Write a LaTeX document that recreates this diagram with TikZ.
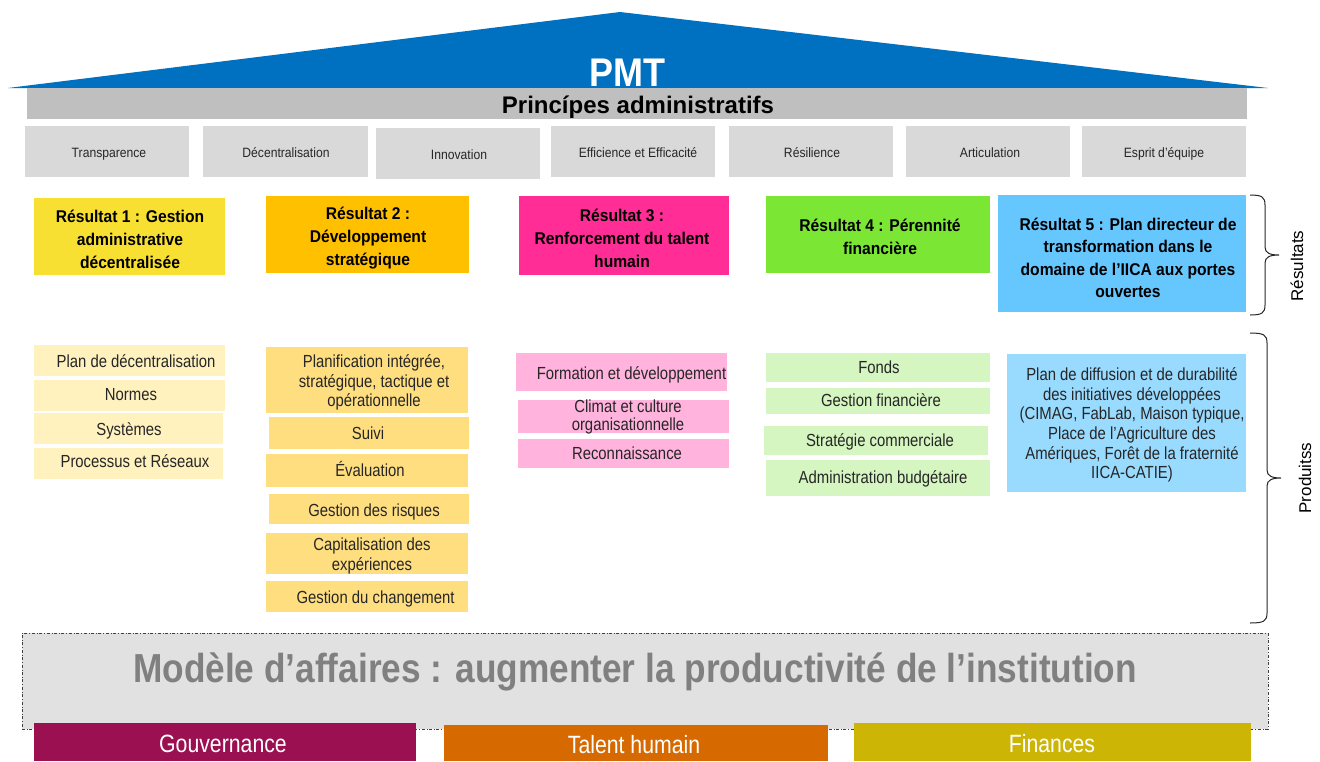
\documentclass[tikz,border=0pt]{standalone}
\usepackage{fontspec}
\setmainfont{Liberation Sans}
\newfontfamily\fN[FakeStretch=0.85]{Liberation Sans}
\newfontfamily\fR[FakeStretch=0.92]{Liberation Sans}
\newfontfamily\fP[FakeStretch=0.9]{Liberation Sans}
\newfontfamily\fM[FakeStretch=0.87]{Liberation Sans}
\definecolor{roofblue}{HTML}{0070C0}
\definecolor{barGray}{HTML}{BFBFBF}
\definecolor{prinGray}{HTML}{D9D9D9}
\definecolor{rYel}{HTML}{F8E032}
\definecolor{rOra}{HTML}{FFC000}
\definecolor{rPink}{HTML}{FF2D95}
\definecolor{rGreen}{HTML}{7CE634}
\definecolor{rBlue}{HTML}{66C7FF}
\definecolor{pYel}{HTML}{FFF2BF}
\definecolor{pOra}{HTML}{FFDE80}
\definecolor{pPink}{HTML}{FFB3DD}
\definecolor{pGreen}{HTML}{D5F5C1}
\definecolor{pBlue}{HTML}{99DAFF}
\definecolor{modelGray}{HTML}{E1E1E1}
\definecolor{modelText}{HTML}{808080}
\definecolor{gouv}{HTML}{9A1050}
\definecolor{talent}{HTML}{D66A00}
\definecolor{fin}{HTML}{CDB505}
\definecolor{txt}{HTML}{262626}
\newcommand\rbox[6]{\node[box,#6,minimum width={(#4-#2)*1pt},minimum height={(#5-#3)*1pt}] (#1) at ({(#2+#4)/2},{(#3+#5)/2}) {};}
\begin{document}
\begin{tikzpicture}[x=1pt,y=-1pt,
  box/.style={inner sep=0pt,outer sep=0pt,draw=none},
  prin/.style={font=\fP\fontsize{13.5}{16}\selectfont,text=txt,anchor=base,inner sep=0pt},
  res/.style={font=\fR\bfseries\fontsize{17}{23}\selectfont,align=center,text=black,inner sep=0pt},
  prod/.style={font=\fN\fontsize{17.5}{19.5}\selectfont,align=center,text=txt,inner sep=0pt},
  prodb/.style={prod,anchor=base},
  bartxt/.style={font=\fN\fontsize{25}{30}\selectfont,text=white,anchor=base,inner sep=0pt},
  side/.style={font=\fontsize{17}{20}\selectfont,rotate=90,text=black,inner sep=0pt},
  brace/.style={draw=black!85,line width=1pt}]
\useasboundingbox (0,0) rectangle (1320,761);
% roof
\fill[roofblue] (8,88) -- (620,12) -- (1268,88) -- cycle;
\node[font=\fP\bfseries\fontsize{40}{44}\selectfont,text=white,anchor=base,inner sep=0pt] (pmt) at (627,86) {PMT};
\rbox{bar}{27}{88}{1247}{119}{fill=barGray}
\node[font=\bfseries\fontsize{24}{28}\selectfont,text=black,anchor=base,inner sep=0pt] (bart) at (638,113) {Princípes administratifs};
% principles
\rbox{pr1}{25}{126}{189}{177}{fill=prinGray}
\rbox{pr2}{203}{126}{368}{177}{fill=prinGray}
\rbox{pr3}{376}{128}{540}{179}{fill=prinGray}
\rbox{pr4}{551}{126}{715}{177}{fill=prinGray}
\rbox{pr5}{729}{126}{893}{177}{fill=prinGray}
\rbox{pr6}{906}{126}{1070}{177}{fill=prinGray}
\rbox{pr7}{1082}{126}{1246}{177}{fill=prinGray}
\node[prin] (pr1t) at (109,157) {Transparence};
\node[prin] (pr2t) at (286,157) {Décentralisation};
\node[prin] (pr3t) at (459,159) {Innovation};
\node[prin] (pr4t) at (638,157) {Efficience et Efficacité};
\node[prin] (pr5t) at (812,157) {Résilience};
\node[prin] (pr6t) at (990,157) {Articulation};
\node[prin] (pr7t) at (1164,157) {Esprit d’équipe};
% results
\rbox{r1}{34}{198}{225}{275}{fill=rYel}
\rbox{r2}{266}{196}{469}{273}{fill=rOra}
\rbox{r3}{519}{196}{729}{275}{fill=rPink}
\rbox{r4}{766}{196}{990}{273}{fill=rGreen}
\rbox{r5}{998}{195}{1246}{312}{fill=rBlue}
\node[res] (r1t) at (130,239) {Résultat 1 : Gestion\\administrative\\décentralisée};
\node[res] (r2t) at (368,238) {Résultat 2 :\\Développement\\stratégique};
\node[res] (r3t) at (622,238) {Résultat 3 :\\Renforcement du talent\\humain};
\node[res] (r4t) at (880,237) {Résultat 4 : Pérennité\\financière};
\node[res,font=\fR\bfseries\fontsize{17}{22.5}\selectfont] (r5t) at (1128,258) {Résultat 5 : Plan directeur de\\transformation dans le\\domaine de l’IICA aux portes\\ouvertes};
% products column 1
\rbox{p1a}{34}{345}{225}{376}{fill=pYel}
\rbox{p1b}{34}{380}{225}{411}{fill=pYel}
\rbox{p1c}{34}{413}{223}{444}{fill=pYel}
\rbox{p1d}{34}{448}{223}{479}{fill=pYel}
\node[prodb] (p1at) at (136,367.3) {Plan de décentralisation};
\node[prodb] (p1bt) at (131,400.3) {Normes};
\node[prodb] (p1ct) at (129,435.3) {Systèmes};
\node[prodb] (p1dt) at (135,467.3) {Processus et Réseaux};
% column 2
\rbox{p2a}{266}{347}{468}{413}{fill=pOra}
\rbox{p2b}{269}{417}{469}{449}{fill=pOra}
\rbox{p2c}{266}{454}{468}{487}{fill=pOra}
\rbox{p2d}{269}{494}{469}{524}{fill=pOra}
\rbox{p2e}{266}{533}{468}{574}{fill=pOra}
\rbox{p2f}{266}{581}{468}{612}{fill=pOra}
\node[prod] (p2at) at (374,382.5) {Planification intégrée,\\stratégique, tactique et\\opérationnelle};
\node[prodb] (p2bt) at (368,439.3) {Suivi};
\node[prodb] (p2ct) at (370,476) {Évaluation};
\node[prodb] (p2dt) at (374,516.3) {Gestion des risques};
\node[prod] (p2et) at (372,556) {Capitalisation des\\expériences};
\node[prodb] (p2ft) at (375.5,603.3) {Gestion du changement};
% column 3
\rbox{p3a}{516}{353}{727}{391}{fill=pPink}
\rbox{p3b}{518}{400}{729}{433}{fill=pPink}
\rbox{p3c}{518}{439}{729}{468}{fill=pPink}
\node[prodb] (p3at) at (631.5,379.3) {Formation et développement};
\node[prod,font=\fN\fontsize{17.5}{18}\selectfont] (p3bt) at (628,416.5) {Climat et culture\\organisationnelle};
\node[prodb] (p3ct) at (627,459.3) {Reconnaissance};
% column 4
\rbox{p4a}{766}{353}{990}{382}{fill=pGreen}
\rbox{p4b}{766}{388}{990}{414}{fill=pGreen}
\rbox{p4c}{764}{426}{988}{455}{fill=pGreen}
\rbox{p4d}{766}{460}{990}{496}{fill=pGreen}
\node[prodb] (p4at) at (879,373.3) {Fonds};
\node[prodb] (p4bt) at (881,406.3) {Gestion financière};
\node[prodb] (p4ct) at (880,446.3) {Stratégie commerciale};
\node[prodb] (p4dt) at (883,483.3) {Administration budgétaire};
% column 5
\rbox{p5}{1007}{354}{1246}{492}{fill=pBlue}
\node[prod,font=\fN\fontsize{17.5}{19.7}\selectfont] (p5t) at (1132,425) {Plan de diffusion et de durabilité\\des initiatives développées\\(CIMAG, FabLab, Maison typique,\\Place de l’Agriculture des\\Amériques, Forêt de la fraternité\\IICA-CATIE)};
% braces
\coordinate (bRt) at (1250,195);
\coordinate (bRb) at (1250,315);
\draw[brace] (bRt) .. controls (1262,195) and (1265,197) .. (1265,205) -- (1265,247) .. controls (1265,253) and (1270,255) .. (1279,255) .. controls (1270,255) and (1265,257) .. (1265,263) -- (1265,305) .. controls (1265,313) and (1262,315) .. (bRb);
\node[side] (resl) at (1297,266) {Résultats};
\coordinate (bPt) at (1250,333);
\coordinate (bPb) at (1250,623);
\draw[brace] (bPt) .. controls (1264,333) and (1267,335) .. (1267,343) -- (1267,470) .. controls (1267,476) and (1272,478) .. (1281,478) .. controls (1272,478) and (1267,480) .. (1267,486) -- (1267,613) .. controls (1267,621) and (1264,623) .. (bPb);
\node[side] (prodl) at (1305,478) {Produitss};
% business model
\rbox{model}{22}{633}{1268}{729}{fill=modelGray,draw=black!75,dash dot,line width=0.8pt}
\node[font=\fM\bfseries\fontsize{40.5}{44}\selectfont,text=modelText,anchor=base,inner sep=0pt] (modelt) at (635,682) {Modèle d’affaires : augmenter la productivité de l’institution};
\rbox{gv}{34}{723}{416}{761}{fill=gouv}
\rbox{th}{444}{725}{828}{761}{fill=talent}
\rbox{fi}{854}{723}{1251}{761}{fill=fin}
\node[bartxt] (gvt) at (223,752) {Gouvernance};
\node[bartxt] (tht) at (634,753) {Talent humain};
\node[bartxt] (fit) at (1052,752) {Finances};
\end{tikzpicture}
\end{document}
